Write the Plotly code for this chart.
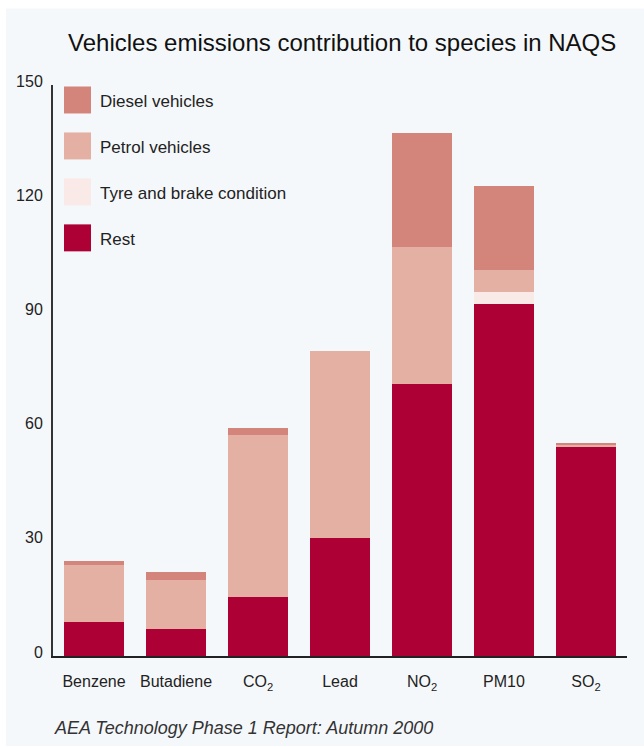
import plotly.graph_objects as go

categories = ["Benzene", "Butadiene", "CO<sub>2</sub>", "Lead", "NO<sub>2</sub>", "PM10", "SO<sub>2</sub>"]
series_names = ["Rest", "Tyre and brake condition", "Petrol vehicles", "Diesel vehicles"]
rest = [9, 7, 15.5, 31, 71.5, 92.5, 55]
tyre = [0, 0, 0, 0, 0, 3, 0]
petrol = [15, 13, 42.5, 49, 36, 6, 0.5]
diesel = [1, 2, 2, 0, 30, 22, 0.5]
series_values = [rest, tyre, petrol, diesel]
colors = ["#ad0035", "#f9eae7", "#e3b0a3", "#d4857b"]
y_ticks = [0, 30, 60, 90, 120, 150]

W, H = 644, 747
L, R, T, B = 53, 17, 84.5, 91
pw, ph = W - L - R, H - T - B

def px(x):
    return (x - L) / pw

def py(y):
    return (H - B - y) / ph

fig = go.Figure()
for name, vals, col in zip(series_names, series_values, colors):
    fig.add_trace(go.Bar(x=categories, y=vals, name=name, marker=dict(color=col, line=dict(width=0)),
                         showlegend=False))

font_fam = "Liberation Sans, Arial, sans-serif"
shapes = [dict(type="rect", xref="paper", yref="paper", x0=px(6), x1=px(650), y0=py(746), y1=py(8),
               fillcolor="#f5f8fb", line=dict(width=0), layer="below")]
annotations = []
# manual legend (top to bottom: Diesel, Petrol, Tyre, Rest)
legend_order = list(zip(series_names, colors))[::-1]
for i, (name, col) in enumerate(legend_order):
    yc = 99.5 + i * 46
    shapes.append(dict(type="rect", xref="paper", yref="paper", x0=px(64), x1=px(91),
                       y0=py(yc + 13.5), y1=py(yc - 13.5), fillcolor=col, line=dict(width=0)))
    annotations.append(dict(xref="paper", yref="paper", x=px(98), y=py(yc + 2), text=name, showarrow=False,
                            xanchor="left", yanchor="middle", font=dict(size=17, color="#222", family=font_fam)))

annotations.append(dict(xref="paper", yref="paper", x=px(342), y=py(42), text="Vehicles emissions contribution to species in NAQS",
                        showarrow=False, xanchor="center", yanchor="middle",
                        font=dict(size=24, color="#111", family=font_fam)))
annotations.append(dict(xref="paper", yref="paper", x=px(52), y=py(728), text="<i>AEA Technology Phase 1 Report: Autumn 2000</i>",
                        showarrow=False, xanchor="left", yanchor="middle",
                        font=dict(size=18, color="#333", family=font_fam)))

fig.update_layout(
    width=W, height=H, barmode="stack", bargap=0.28,
    margin=dict(l=L, r=R, t=T, b=B, pad=0),
    paper_bgcolor="white", plot_bgcolor="rgba(0,0,0,0)",
    shapes=shapes, annotations=annotations, showlegend=False,
    font=dict(family=font_fam, color="#222"),
)
fig.update_xaxes(showline=True, linecolor="#222", linewidth=2, ticks="", showgrid=False,
                 tickfont=dict(size=16, color="#222"), ticklabelstandoff=10)
fig.update_yaxes(range=[0, 150], tickvals=y_ticks, showline=True, linecolor="#333", linewidth=2,
                 ticks="", showgrid=False, zeroline=False, tickfont=dict(size=16, color="#222"),
                 ticklabelstandoff=5, ticklabelshift=-4)

fig.write_html("out.html")
